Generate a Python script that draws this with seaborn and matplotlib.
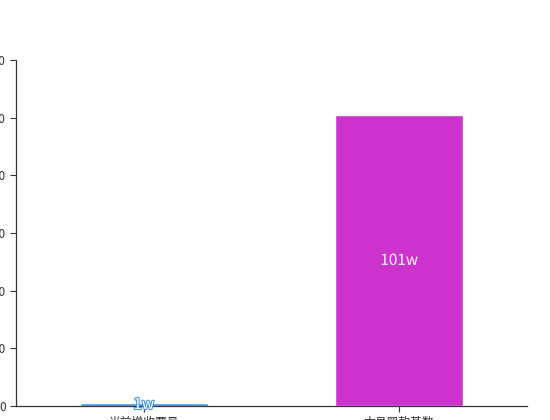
import matplotlib
matplotlib.use("Agg")
import matplotlib.pyplot as plt
import matplotlib.patheffects as pe
import seaborn as sns
import pandas as pd

# Data
categories = ["当前增收票量", "本月罚款基数"]
values = [1, 101]
labels = ["1w", "101w"]
colors = ["#3d8fe3", "#cc33cc"]

sns.set_style("ticks")
plt.rcParams["font.family"] = ["Noto Sans CJK SC", "DejaVu Sans"]

fig = plt.figure(figsize=(5.5, 4.2), dpi=100)
# axes deliberately overflow the figure on the left and bottom, like the reference
ax = fig.add_axes([16 / 550, 14 / 420, 511 / 550, 346 / 420])

df = pd.DataFrame({"cat": categories, "val": values})
sns.barplot(data=df, x="cat", y="val", hue="cat", palette=colors,
            width=0.5, legend=False, ax=ax, saturation=1)

ax.set_xlim(-0.5, 1.5)
ax.set_ylim(0, 120)
ax.set_yticks([0, 20, 40, 60, 80, 100, 120])
ax.set_xlabel("")
ax.set_ylabel("")
ax.tick_params(axis="both", labelsize=8.5, colors="#333333", length=4, width=0.8)
for s in ["top", "right"]:
    ax.spines[s].set_visible(False)
for s in ["left", "bottom"]:
    ax.spines[s].set_color("#333333")
    ax.spines[s].set_linewidth(0.9)

# value labels in the middle of each bar
for i, (v, lab) in enumerate(zip(values, labels)):
    ax.text(i, v / 2, lab, ha="center", va="center", fontsize=11, color="white",
            path_effects=[pe.withStroke(linewidth=1.5, foreground=colors[i])])

fig.savefig("out.png", dpi=100)
